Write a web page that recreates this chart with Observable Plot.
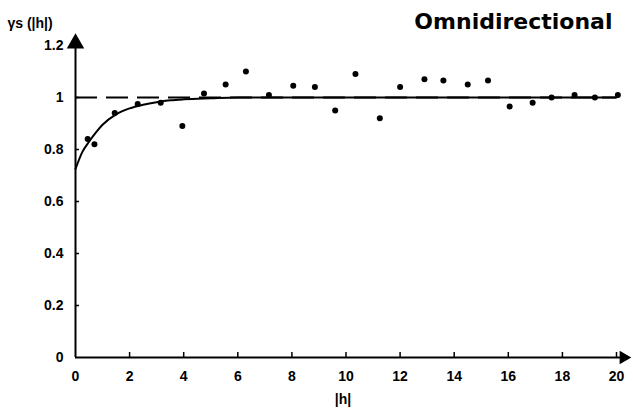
<!DOCTYPE html>
<html>
<head>
<meta charset="utf-8">
<script src="https://cdn.jsdelivr.net/npm/d3@7"></script>
<script src="https://cdn.jsdelivr.net/npm/@observablehq/plot@0.6"></script>
<style>
  html, body { margin: 0; padding: 0; background: #fff; }
  #chart svg { display: block; }
</style>
</head>
<body>
<div id="chart"></div>
<script>
// Experimental variogram (lag |h| vs semivariance)
const lagH  = [0.45, 0.7, 1.45, 2.3, 3.15, 3.95, 4.75, 5.55, 6.3, 7.15, 8.05, 8.85, 9.6, 10.35, 11.25, 12.0, 12.9, 13.6, 14.5, 15.25, 16.05, 16.9, 17.6, 18.45, 19.2, 20.05];
const gamma = [0.84, 0.82, 0.94, 0.975, 0.98, 0.89, 1.015, 1.05, 1.10, 1.01, 1.045, 1.04, 0.95, 1.09, 0.92, 1.04, 1.07, 1.065, 1.05, 1.065, 0.965, 0.98, 1.0, 1.01, 1.0, 1.01];
// Fitted model curve
const modelH = [0, 0.25, 0.5, 0.75, 1, 1.5, 2, 2.5, 3, 3.5, 4, 5, 6, 8, 20];
const modelG = [0.725, 0.79, 0.83, 0.865, 0.895, 0.935, 0.958, 0.972, 0.982, 0.989, 0.993, 0.997, 1.0, 1.0, 1.0];
// Sill
const sill = [1];
// Ticks
const xTicks = [0, 2, 4, 6, 8, 10, 12, 14, 16, 18, 20];
const yTicks = [0, 0.2, 0.4, 0.6, 0.8, 1, 1.2];
const titleText = "Omnidirectional";
const yLabel = "γs (|h|)";
const xLabel = "|h|";

const points = lagH.map((h, i) => ({h, g: gamma[i]}));
const model = modelH.map((h, i) => ({h, g: modelG[i]}));

const chart = Plot.plot({
  width: 633,
  height: 408,
  marginLeft: 75,
  marginRight: 17,
  marginTop: 45,
  marginBottom: 51,
  style: {fontFamily: "Liberation Sans, Arial, sans-serif", fontSize: "14px", fontWeight: "bold", color: "#000", background: "#fff"},
  x: {domain: [0, 20], label: null},
  y: {domain: [0, 1.2], label: null},
  marks: [
    // axis lines
    Plot.ruleY([0], {x1: 0, x2: 20.2, stroke: "#000", strokeWidth: 2}),
    Plot.ruleX([0], {y1: 0, y2: 1.2, stroke: "#000", strokeWidth: 2}),
    // arrowheads
    Plot.dot([0], {x: 0, y: 1.208, symbol: "triangle", r: 6.5, fill: "#000", stroke: null}),
    Plot.dot([0], {x: 20.26, y: 0, symbol: "triangle", r: 5, rotate: 90, fill: "#000", stroke: null}),
    // inward tick marks
    Plot.ruleX(xTicks.slice(1), {y1: 0, y2: 0, insetTop: -5, stroke: "#000", strokeWidth: 1.5}),
    Plot.ruleY(yTicks.slice(1), {x1: 0, x2: 0, insetRight: -4, stroke: "#000", strokeWidth: 1.5}),
    // tick labels
    Plot.axisX({ticks: xTicks, tickSize: 0, tickPadding: 14, tickFormat: d => String(d), fontSize: 14, fontWeight: "bold", label: null}),
    Plot.axisY({ticks: yTicks, tickSize: 0, tickPadding: 12, tickFormat: d => String(d), fontSize: 14, fontWeight: "bold", label: null}),
    // sill (dashed)
    Plot.ruleY(sill, {x1: 0, x2: 20, stroke: "#000", strokeWidth: 2, strokeDasharray: "22,9"}),
    // model curve
    Plot.line(model, {x: "h", y: "g", curve: "monotone-x", stroke: "#000", strokeWidth: 2}),
    // experimental points
    Plot.dot(points, {x: "h", y: "g", r: 3, fill: "#000", stroke: null}),
    // texts
    Plot.text([titleText], {frameAnchor: "top-right", dx: -4, dy: -16.5, lineAnchor: "bottom", textAnchor: "end", fontFamily: "DejaVu Sans", fontSize: 22, fontWeight: "bold", fill: "#000"}),
    Plot.text([yLabel], {frameAnchor: "top-left", dx: -68, dy: -18, lineAnchor: "bottom", textAnchor: "start", fontSize: 14, fontWeight: "bold", fill: "#000"}),
    Plot.text([xLabel], {frameAnchor: "bottom", dx: -3, dy: 46, lineAnchor: "bottom", textAnchor: "middle", fontSize: 14, fontWeight: "bold", fill: "#000"})
  ]
});
document.getElementById("chart").appendChild(chart);
</script>
</body>
</html>
